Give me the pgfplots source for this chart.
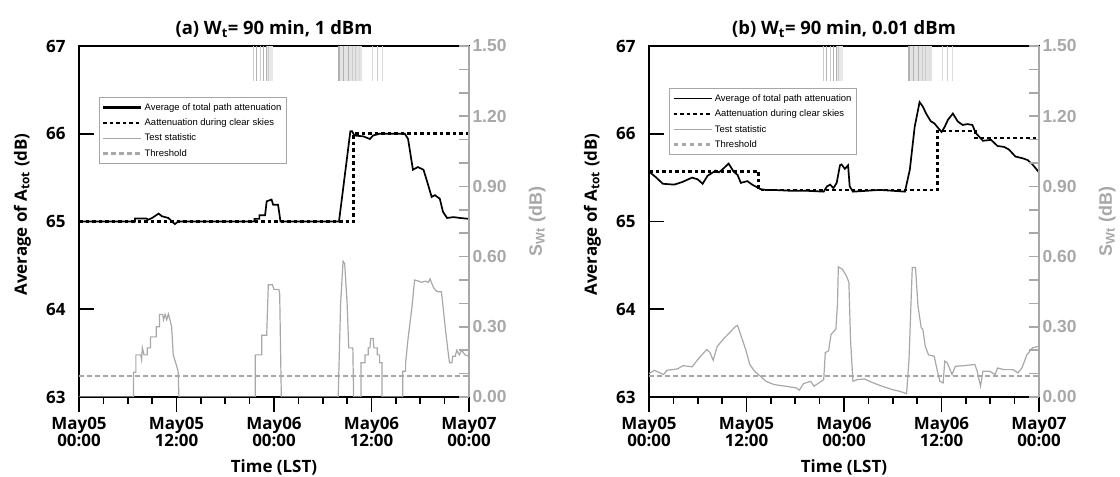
\documentclass[border=0pt]{standalone}
\usepackage{pgfplots}
\pgfplotsset{compat=1.18}
\usepackage{fontspec}
\setmainfont{Liberation Sans}
\newfontfamily\kr{Open Sans}
\definecolor{sg}{RGB}{168,168,168}
\newcommand{\krf}{\kr\bfseries\fontsize{17}{17}\selectfont}
\newcommand{\arf}{\bfseries\fontsize{17.5}{18}\selectfont}

\pgfplotsset{
 leftax/.style={
  scale only axis, width=390bp, height=351bp, anchor=south west,
  xmin=0, xmax=48, ymin=63, ymax=67,
  axis line style={line width=1.6bp, black},
  xtick={0,12,24,36,48},
  minor xtick={3,6,9,15,18,21,27,30,33,39,42,45},
  xticklabels={{May05\\00:00},{May05\\12:00},{May06\\00:00},{May06\\12:00},{May07\\00:00}},
  xticklabel style={align=center, font=\krf, yshift=-17bp},
  ytick={63,64,65,66,67},
  yticklabel style={font=\krf, xshift=-10bp},
  /pgf/number format/assume math mode=true,
  xtick pos=bottom, ytick pos=left,
  tick align=inside,
  major tick length=15bp, minor tick length=7bp,
  tick style={black, line width=1.6bp},
  major x tick style={yshift=-15bp},
  minor x tick style={yshift=-7bp},
  xlabel={Time (LST)},
  every axis x label/.style={at={(axis description cs:0.5,-0.202)}, anchor=center, font=\krf},
  every axis y label/.style={at={(axis description cs:-0.145,0.52)}, rotate=90, anchor=center, font=\krf},
  ylabel={Average of A\textsubscript{tot} (dB)},
  title style={font=\kr\bfseries\fontsize{18.5}{19}\selectfont, yshift=-1bp},
 },
 rightax/.style={
  scale only axis, width=390bp, height=351bp, anchor=south west,
  xmin=0, xmax=48, ymin=0, ymax=1.5,
  axis y line*=right, axis x line=none,
  y axis line style={sg, line width=1.6bp, -},
  ytick={0,0.3,0.6,0.9,1.2,1.5},
  minor ytick={0.1,0.2,0.4,0.5,0.7,0.8,1.0,1.1,1.3,1.4},
  y tick label style={font=\arf, text=sg},
  yticklabel style={/pgf/number format/fixed, /pgf/number format/fixed zerofill, /pgf/number format/precision=2, /pgf/number format/assume math mode=true},
  tick align=inside, major tick length=10bp, minor tick length=10bp,
  tick style={sg, line width=1.6bp},
  every axis y label/.style={at={(axis description cs:1.175,0.5)}, rotate=90, anchor=center, font=\bfseries\fontsize{18}{18}\selectfont, text=sg},
  ylabel={S\textsubscript{Wt} (dB)},
  legend cell align=left,
  legend image code/.code={\draw[##1] (0bp,0bp) -- (38bp,0bp);},
  legend style={anchor=north west, font=\fontsize{9.5}{11}\selectfont, draw=gray!70, line width=0.8bp, fill=white, inner xsep=3bp, inner ysep=4bp, row sep=3bp, text=black},
 },
 tstat/.style={sg, line width=1.2bp},
 thr/.style={sg, line width=2.4bp, dash pattern=on 4.5bp off 3.5bp},
 avg/.style={black, line width=1.7bp},
 clr/.style={black, line width=2.5bp, dash pattern=on 3.5bp off 3bp},
 vl/.style={draw=none, forget plot, error bars/.cd, y dir=minus, y explicit, error mark=none, error bar style={color=#1, line width=1bp}},
}

\newcommand{\rainmarks}{%
  \addplot[fill=gray!18, draw=none, forget plot] coordinates {(23.0,1.5) (23.9,1.5) (23.9,1.35) (23.0,1.35)} -- cycle;
  \addplot[fill=gray!22, draw=none, forget plot] coordinates {(31.9,1.5) (34.8,1.5) (34.8,1.35) (31.9,1.35)} -- cycle;
  \addplot[vl=gray!40] coordinates {(21.5,1.5) -= (0,0.15) (22.3,1.5) -= (0,0.15) (23.3,1.5) -= (0,0.15) (33.6,1.5) -= (0,0.15) (34.0,1.5) -= (0,0.15) (36.7,1.5) -= (0,0.15)};
  \addplot[vl=gray!60] coordinates {(21.9,1.5) -= (0,0.15) (22.7,1.5) -= (0,0.15) (23.1,1.5) -= (0,0.15) (31.9,1.5) -= (0,0.15) (32.1,1.5) -= (0,0.15) (32.6,1.5) -= (0,0.15) (33.2,1.5) -= (0,0.15)};
  \addplot[vl=gray!28] coordinates {(36.1,1.5) -= (0,0.15) (37.3,1.5) -= (0,0.15) (34.5,1.5) -= (0,0.15)};
}

\begin{document}
\begin{tikzpicture}[x=1bp,y=1bp]
\useasboundingbox (0,0) rectangle (1120,477);

% ---------- panel (a) ----------
\begin{axis}[leftax, at={(79bp,80bp)}, title={(a) W\textsubscript{t}= 90 min, 1 dBm}]
\addplot[avg] coordinates {(0,65.0) (6.9,65.0) (6.9,65.034) (8.3,65.034) (8.5,65.02) (9.0,65.04) (9.8,65.09) (10.2,65.06) (11.0,65.04) (11.8,64.97) (12.2,65.0) (21.6,65.0) (21.6,65.03) (22.2,65.03) (22.2,65.07) (22.9,65.07) (23.1,65.23) (23.7,65.25) (23.9,65.19) (24.5,65.19) (24.8,65.0) (32.0,65.0) (33.4,66.03) (33.6,66.03) (33.9,65.98) (35.0,65.97) (35.8,65.94) (36.2,65.98) (37.0,66.0) (40.1,66.0) (40.5,65.94) (41.1,65.59) (41.7,65.62) (42.4,65.59) (42.8,65.47) (43.4,65.28) (43.8,65.30) (44.4,65.26) (44.8,65.11) (45.3,65.04) (46.1,65.05) (46.9,65.04) (48,65.03)};
\addplot[clr] coordinates {(0,65) (33.8,65) (33.8,66) (48,66)};
\end{axis}
\begin{axis}[rightax, at={(79bp,80bp)}, legend style={at={(axis description cs:0.051,0.855)}}]
\rainmarks
\addlegendimage{black, line width=2.2bp}
\addlegendentry{Average of total path attenuation}
\addlegendimage{black, line width=2bp, dash pattern=on 3.5bp off 3bp}
\addlegendentry{Aattenuation during clear skies}
\addplot[tstat] coordinates {(0,0) (6.7,0) (6.7,0.106) (7.0,0.106) (7.0,0.18) (7.6,0.18) (7.7,0.16) (7.8,0.21) (8.0,0.18) (8.4,0.18) (8.4,0.21) (8.8,0.21) (8.8,0.257) (9.5,0.257) (9.5,0.30) (9.9,0.30) (9.9,0.353) (10.3,0.353) (10.4,0.33) (10.6,0.353) (10.8,0.33) (11.0,0.355) (11.2,0.33) (11.4,0.30) (11.6,0.18) (11.9,0.146) (12.2,0.11) (12.3,0) (21.7,0) (21.7,0.18) (22.5,0.18) (22.5,0.264) (23.1,0.264) (23.3,0.48) (23.8,0.48) (24.0,0.46) (24.6,0.46) (24.7,0.44) (24.9,0) (31.9,0) (32.2,0.4) (32.5,0.58) (32.7,0.57) (33.0,0.4) (33.2,0.21) (33.7,0.21) (33.8,0) (34.7,0) (34.7,0.146) (35.2,0.146) (35.2,0.18) (35.6,0.18) (35.6,0.21) (35.8,0.21) (35.9,0.25) (36.2,0.25) (36.3,0.21) (36.7,0.21) (36.7,0.18) (37.0,0.18) (37.0,0.146) (37.3,0.146) (37.3,0) (39.85,0) (39.85,0.11) (40.2,0.11) (40.2,0.146) (40.5,0.25) (41.0,0.39) (41.3,0.50) (41.8,0.495) (42.2,0.49) (42.6,0.495) (43.0,0.49) (43.2,0.505) (43.6,0.47) (43.9,0.455) (44.2,0.45) (44.6,0.45) (44.7,0.42) (45.1,0.29) (45.4,0.2) (45.6,0.146) (45.9,0.146) (46.0,0.174) (46.3,0.174) (46.5,0.2) (46.8,0.18) (47.1,0.2) (47.5,0.18) (48,0.174)};
\addlegendentry{Test statistic}
\addplot[thr] coordinates {(0,0.089) (48,0.089)};
\addlegendentry{Threshold}
\end{axis}

% ---------- panel (b) ----------
\begin{axis}[leftax, at={(649bp,80bp)}, title={(b) W\textsubscript{t}= 90 min, 0.01 dBm}]
\addplot[avg] coordinates {(0,65.57) (0.9,65.50) (1.7,65.43) (3.1,65.42) (4.1,65.45) (5.3,65.50) (6.0,65.48) (6.6,65.43) (7.2,65.52) (8.2,65.58) (8.6,65.56) (9.0,65.59) (9.8,65.66) (10.4,65.57) (10.9,65.53) (11.3,65.44) (12.1,65.46) (12.7,65.42) (13.1,65.40) (13.7,65.37) (14.3,65.36) (15.3,65.36) (17.4,65.35) (19.4,65.35) (21.5,65.34) (21.9,65.40) (22.3,65.42) (22.7,65.38) (23.1,65.44) (23.5,65.64) (23.7,65.65) (24.1,65.60) (24.5,65.64) (24.7,65.40) (25.1,65.34) (26.8,65.35) (28.4,65.36) (30.0,65.35) (31.5,65.34) (32.1,65.59) (32.7,66.08) (33.3,66.36) (33.7,66.31) (34.1,66.23) (34.7,66.14) (35.1,66.12) (36.0,66.02) (36.4,66.08) (36.8,66.16) (37.4,66.23) (38.0,66.14) (38.6,66.10) (39.2,66.11) (39.8,66.10) (40.2,66.01) (41.1,65.92) (42.1,65.93) (42.9,65.86) (43.7,65.85) (44.3,65.82) (45.1,65.74) (46.0,65.72) (46.6,65.70) (47.2,65.65) (48,65.56)};
\addplot[clr] coordinates {(0,65.57) (13.5,65.57) (13.5,65.36) (35.5,65.36) (35.5,66.03) (40.2,66.03) (40.2,65.95) (48,65.95)};
\end{axis}
\begin{axis}[rightax, at={(649bp,80bp)}, legend style={at={(axis description cs:0.051,0.88)}}]
\rainmarks
\addlegendimage{black, line width=1.2bp}
\addlegendentry{Average of total path attenuation}
\addlegendimage{black, line width=2.5bp, dash pattern=on 3.5bp off 3bp}
\addlegendentry{Aattenuation during clear skies}
\addplot[tstat] coordinates {(0,0.10) (0.66,0.114) (1.8,0.096) (2.2,0.114) (3.5,0.12) (4.2,0.134) (5.3,0.129) (6.0,0.16) (7.1,0.203) (7.5,0.19) (7.9,0.157) (8.4,0.217) (9.3,0.253) (9.9,0.274) (10.6,0.30) (10.9,0.306) (11.2,0.274) (11.9,0.203) (12.4,0.139) (13.0,0.11) (13.7,0.089) (14.4,0.067) (15.4,0.053) (16.8,0.046) (18.1,0.039) (18.5,0.029) (19.0,0.057) (19.9,0.067) (20.3,0.046) (21.2,0.067) (21.5,0.074) (21.7,0.19) (22.1,0.197) (22.4,0.267) (23.0,0.29) (23.2,0.40) (23.3,0.556) (23.8,0.546) (24.3,0.517) (24.6,0.49) (24.8,0.246) (25.1,0.067) (25.6,0.074) (26.5,0.077) (27.4,0.063) (28.7,0.046) (30.0,0.031) (30.9,0.024) (31.7,0.014) (32.0,0.16) (32.4,0.553) (32.8,0.553) (33.1,0.39) (33.5,0.296) (33.7,0.289) (34.0,0.217) (34.4,0.18) (35.1,0.174) (35.5,0.11) (35.8,0.067) (36.2,0.06) (36.4,0.153) (36.7,0.146) (37.3,0.096) (37.7,0.131) (38.8,0.134) (40.1,0.139) (40.4,0.11) (40.8,0.046) (41.1,0.11) (41.9,0.11) (42.6,0.096) (42.9,0.124) (43.7,0.117) (44.8,0.117) (45.4,0.103) (45.9,0.124) (46.5,0.18) (47.2,0.21) (48,0.217)};
\addlegendentry{Test statistic}
\addplot[thr] coordinates {(0,0.089) (48,0.089)};
\addlegendentry{Threshold}
\end{axis}
\end{tikzpicture}
\end{document}
